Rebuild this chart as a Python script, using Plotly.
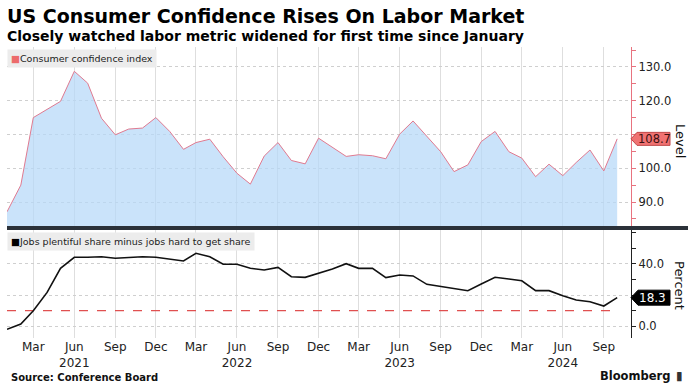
import plotly.graph_objects as go

# ---------------- data ----------------
months = [
    "2021-01-01", "2021-02-01", "2021-03-01", "2021-04-01", "2021-05-01", "2021-06-01",
    "2021-07-01", "2021-08-01", "2021-09-01", "2021-10-01", "2021-11-01", "2021-12-01",
    "2022-01-01", "2022-02-01", "2022-03-01", "2022-04-01", "2022-05-01", "2022-06-01",
    "2022-07-01", "2022-08-01", "2022-09-01", "2022-10-01", "2022-11-01", "2022-12-01",
    "2023-01-01", "2023-02-01", "2023-03-01", "2023-04-01", "2023-05-01", "2023-06-01",
    "2023-07-01", "2023-08-01", "2023-09-01", "2023-10-01", "2023-11-01", "2023-12-01",
    "2024-01-01", "2024-02-01", "2024-03-01", "2024-04-01", "2024-05-01", "2024-06-01",
    "2024-07-01", "2024-08-01", "2024-09-01", "2024-10-01",
]

consumer_confidence = [
    87.1, 95.0, 115.0, 117.5, 119.8, 128.7, 125.2, 114.8, 109.9, 111.6, 111.9, 115.0,
    110.9, 105.6, 107.6, 108.6, 103.4, 98.5, 95.3, 103.6, 107.6, 102.3, 101.3, 108.9,
    106.2, 103.5, 104.0, 103.7, 102.8, 110.1, 114.0, 109.4, 104.9, 99.0, 101.0, 107.9,
    110.9, 104.9, 103.0, 97.5, 101.2, 97.8, 101.7, 105.4, 99.2, 108.7,
]

labor_differential = [
    -2.1, 1.3, 9.9, 21.7, 37.2, 44.3, 44.3, 44.7, 43.7, 44.0, 44.7, 44.3,
    43.2, 41.9, 46.9, 44.7, 39.8, 39.8, 37.2, 36.1, 37.8, 31.8, 31.4, 34.0,
    36.8, 40.2, 37.2, 37.2, 31.2, 32.9, 32.3, 26.9, 25.4, 23.9, 22.8, 27.1,
    31.4, 30.3, 29.2, 22.8, 22.8, 19.6, 16.8, 15.7, 12.9, 18.3,
]

reference_level = [10.0, 10.0]
reference_dates = [months[0], months[-1]]

x_tick_dates = [
    "2021-03-01", "2021-06-01", "2021-09-01", "2021-12-01",
    "2022-03-01", "2022-06-01", "2022-09-01", "2022-12-01",
    "2023-03-01", "2023-06-01", "2023-09-01", "2023-12-01",
    "2024-03-01", "2024-06-01", "2024-09-01",
]
x_tick_labels = [
    "Mar", "Jun<br>2021", "Sep", "Dec",
    "Mar", "Jun<br>2022", "Sep", "Dec",
    "Mar", "Jun<br>2023", "Sep", "Dec",
    "Mar", "Jun<br>2024", "Sep",
]
top_tick_vals = [90, 100, 110, 120, 130]
top_tick_text = ["90.0", "100.0", "", "120.0", "130.0"]
bot_tick_vals = [0, 20, 40]
bot_tick_text = ["0.0", "", "40.0"]

# ---------------- layout helpers ----------------
W, H = 697, 389
def px(p):
    return p / W
def py(p):
    return 1 - p / H

FONT = "DejaVu Sans"
PLOT_L, PLOT_R = 7, 631

fig = go.Figure()

fig.add_trace(go.Scatter(
    x=months, y=consumer_confidence, mode="lines",
    line=dict(color="#e07a90", width=1),
    fill="tozeroy", fillcolor="rgba(182,216,248,0.72)",
    xaxis="x", yaxis="y", showlegend=False, hoverinfo="skip",
))
fig.add_trace(go.Scatter(
    x=reference_dates, y=reference_level, mode="lines",
    line=dict(color="#e05050", width=1.2, dash="dash"),
    xaxis="x2", yaxis="y2", showlegend=False, hoverinfo="skip",
))
fig.add_trace(go.Scatter(
    x=months, y=labor_differential, mode="lines",
    line=dict(color="#111111", width=1.6),
    xaxis="x2", yaxis="y2", showlegend=False, hoverinfo="skip",
))

xcommon = dict(
    domain=[px(PLOT_L), px(PLOT_R)],
    range=["2021-01-01", "2024-11-01"],
    tickmode="array", tickvals=x_tick_dates,
    showgrid=True, gridcolor="#dedede", gridwidth=1,
    zeroline=False, showline=False,
)

fig.update_layout(
    width=W, height=H, autosize=False,
    margin=dict(l=0, r=0, t=0, b=0),
    paper_bgcolor="white", plot_bgcolor="white",
    font=dict(family=FONT, color="#222222"),
    xaxis=dict(**xcommon, anchor="y", showticklabels=False, ticks=""),
    xaxis2=dict(**xcommon, anchor="y2", ticktext=x_tick_labels,
                ticks="inside", ticklen=3, tickcolor="#dedede",
                tickfont=dict(size=12, family=FONT, color="#222222")),
    yaxis=dict(
        domain=[py(227), py(47)], range=[82.6, 135.9], anchor="x",
        side="right", tickmode="array", tickvals=top_tick_vals, ticktext=top_tick_text,
        showline=True, linecolor="#e8737f", linewidth=1.2,
        ticks="outside", ticklen=4, tickcolor="#e8737f",
        showgrid=True, gridcolor="#cfcfcf", griddash="dot", zeroline=False,
        tickfont=dict(size=11.5, family=FONT, color="#222222"),
        minor=dict(tickmode="array", tickvals=[85, 95, 105, 115, 125, 135],
                   ticks="outside", ticklen=4, tickcolor="#e8737f", showgrid=False),
    ),
    yaxis2=dict(
        domain=[py(338), py(230)], range=[-7.7, 61.9], anchor="x2",
        side="right", tickmode="array", tickvals=bot_tick_vals, ticktext=bot_tick_text,
        showline=True, linecolor="#222222", linewidth=1.2,
        ticks="outside", ticklen=4, tickcolor="#222222",
        showgrid=True, gridcolor="#cfcfcf", griddash="dot", zeroline=False,
        tickfont=dict(size=11.5, family=FONT, color="#222222"),
        minor=dict(tickmode="array", tickvals=[10, 30, 50, 60],
                   ticks="outside", ticklen=4, tickcolor="#222222", showgrid=False),
    ),
)

shapes = []
# dark separator band between panels
shapes.append(dict(type="rect", xref="paper", yref="paper",
                   x0=px(PLOT_L), x1=px(688), y0=py(230), y1=py(226),
                   fillcolor="#2b3139", line=dict(width=0), layer="above"))
# value badges (pentagon pointing at the right axis)
shapes.append(dict(type="path", xref="paper", xsizemode="pixel", xanchor=px(PLOT_R),
                   yref="y", ysizemode="pixel", yanchor=consumer_confidence[-1],
                   path="M0,0 L6,6.5 L39,6.5 L39,-6.5 L6,-6.5 Z", fillcolor="#f07272",
                   line=dict(color="#c04848", width=1), layer="above"))
shapes.append(dict(type="path", xref="paper", xsizemode="pixel", xanchor=px(PLOT_R),
                   yref="y2", ysizemode="pixel", yanchor=labor_differential[-1],
                   path="M0,0 L7,7.5 L39,7.5 L39,-7.5 L7,-7.5 Z", fillcolor="#000000",
                   line=dict(color="#000000", width=1), layer="above"))
fig.update_layout(shapes=shapes)

ann = []
ann.append(dict(text="<b>US Consumer Confidence Rises On Labor Market</b>",
                xref="paper", yref="paper", x=px(5), y=py(16), xanchor="left", yanchor="middle",
                showarrow=False, font=dict(size=19, family=FONT, color="#000000")))
ann.append(dict(text="<b>Closely watched labor metric widened for first time since January</b>",
                xref="paper", yref="paper", x=px(5), y=py(36), xanchor="left", yanchor="middle",
                showarrow=False, font=dict(size=14, family=FONT, color="#000000")))
ann.append(dict(text="<span style='color:#ec6b6b'>■</span>Consumer confidence index",
                xref="paper", yref="paper", x=px(PLOT_L), y=py(49), xanchor="left", yanchor="top",
                showarrow=False, bgcolor="#ececec", borderpad=3,
                font=dict(size=9.5, family=FONT, color="#222222")))
ann.append(dict(text="<span style='color:#000000'>■</span>Jobs plentiful share minus jobs hard to get share",
                xref="paper", yref="paper", x=px(PLOT_L), y=py(232), xanchor="left", yanchor="top",
                showarrow=False, bgcolor="#ececec", borderpad=3,
                font=dict(size=9.5, family=FONT, color="#222222")))
ann.append(dict(text=f"{consumer_confidence[-1]:.1f}",
                xref="paper", yref="y", x=px(PLOT_R + 5), y=consumer_confidence[-1],
                xanchor="left", yanchor="middle", showarrow=False,
                font=dict(size=11.5, family=FONT, color="#3a1010")))
ann.append(dict(text=f"{labor_differential[-1]:.1f}",
                xref="paper", yref="y2", x=px(PLOT_R + 6), y=labor_differential[-1],
                xanchor="left", yanchor="middle", showarrow=False,
                font=dict(size=12, family=FONT, color="#ffffff")))
ann.append(dict(text="Level", textangle=90,
                xref="paper", yref="paper", x=px(680), y=py(141), xanchor="center", yanchor="middle",
                showarrow=False, font=dict(size=13, family=FONT, color="#111111")))
ann.append(dict(text="Percent", textangle=90,
                xref="paper", yref="paper", x=px(680), y=py(285), xanchor="center", yanchor="middle",
                showarrow=False, font=dict(size=13, family=FONT, color="#111111")))
ann.append(dict(text="<b>Source: Conference Board</b>",
                xref="paper", yref="paper", x=px(9), y=py(377), xanchor="left", yanchor="middle",
                showarrow=False, font=dict(size=10, family=FONT, color="#111111")))
ann.append(dict(text="<b>Bloomberg</b>",
                xref="paper", yref="paper", x=px(672), y=py(376), xanchor="right", yanchor="middle",
                showarrow=False, font=dict(size=11.5, family=FONT, color="#111111")))
ann.append(dict(text="<b>▮</b>",
                xref="paper", yref="paper", x=px(674), y=py(376), xanchor="left", yanchor="middle",
                showarrow=False, font=dict(size=12, family=FONT, color="#333333")))
fig.update_layout(annotations=ann)

fig.write_html(
    "out.html",
    config={"displayModeBar": False},
    post_script="document.body.style.margin='0';document.body.style.overflow='hidden';",
)
